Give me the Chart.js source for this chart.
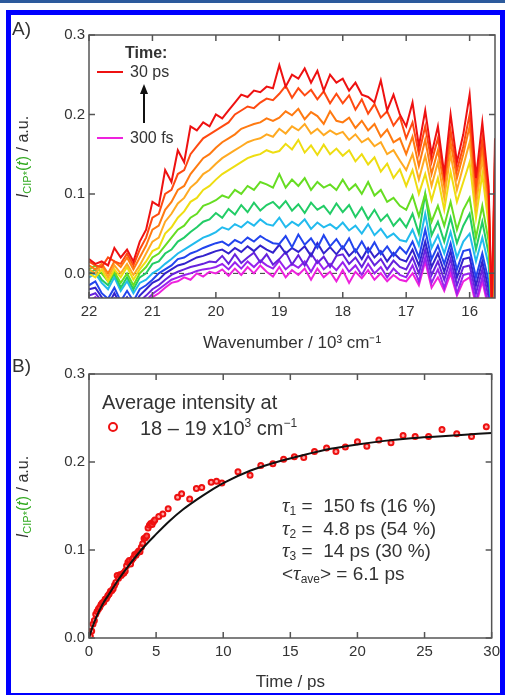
<!DOCTYPE html>
<html>
<head>
<meta charset="utf-8">
<script src="https://cdn.jsdelivr.net/npm/chart.js@4.4.1/dist/chart.umd.min.js"></script>
<style>
body { margin: 0; width: 505px; height: 695px; position: relative; overflow: hidden; background: #fff;
       font-family: "Liberation Sans", Arial, Helvetica, sans-serif; color: #333; }
#topbar { position: absolute; left: 0; top: 0; width: 505px; height: 3px; background: #2c5a9c; }
#frame { position: absolute; left: 6px; top: 10px; width: 499px; height: 688px; border: 5px solid #0000ff; box-sizing: border-box; }
canvas { position: absolute; left: 0; }
.t { position: absolute; white-space: nowrap; line-height: 1; }
.ytitle { position: absolute; white-space: nowrap; line-height: 1; font-size: 16px; transform: translate(-50%, -50%) rotate(-90deg); }
.ytitle .g { color: #33aa22; }
.ytitle sub { font-size: 11px; vertical-align: -3px; }
.tau i { font-family: "Liberation Serif", "DejaVu Serif", serif; font-size: 21px; }
.tau sub { font-size: 12px; vertical-align: -3px; }
.sw { position: absolute; height: 2px; width: 26px; }
</style>
</head>
<body>
<div id="topbar"></div>
<div id="frame"></div>
<canvas id="chartA" width="505" height="360" style="top:0"></canvas>
<canvas id="chartB" width="505" height="340" style="top:355px"></canvas>

<div class="t" style="left:12px;top:19px;font-size:19px">A)</div>
<div class="t" style="left:12px;top:356px;font-size:19px">B)</div>
<div class="ytitle" style="left:24px;top:157px"><i>I</i><sub class="g">CIP*</sub><span class="g">(<i>t</i>)</span> / a.u.</div>
<div class="ytitle" style="left:24px;top:497px"><i>I</i><sub class="g">CIP*</sub><span class="g">(<i>t</i>)</span> / a.u.</div>

<div class="t" style="left:125px;top:45px;font-size:16px;font-weight:bold">Time:</div>
<div class="sw" style="left:97px;top:71px;background:#ee1111"></div>
<div class="t" style="left:130px;top:64px;font-size:16px">30 ps</div>
<div style="position:absolute;left:143px;top:92px;width:2px;height:31px;background:#111"></div>
<div style="position:absolute;left:140px;top:84px;width:0;height:0;border-left:4px solid transparent;border-right:4px solid transparent;border-bottom:10px solid #111"></div>
<div class="sw" style="left:97px;top:137px;background:#ee22dd"></div>
<div class="t" style="left:130px;top:130px;font-size:16px">300 fs</div>

<div class="t" style="left:102px;top:392px;font-size:20px">Average intensity at</div>
<div style="position:absolute;left:108px;top:422px;width:6px;height:6px;border:2px solid #ee1111;border-radius:50%"></div>
<div class="t" style="left:140px;top:417px;font-size:20px">18 – 19 x10<sup style="font-size:12px">3</sup> cm<sup style="font-size:12px">−1</sup></div>

<div class="t tau" style="left:282px;top:495px;font-size:19px"><i>τ</i><sub>1</sub> =&nbsp; 150 fs (16 %)</div>
<div class="t tau" style="left:282px;top:518px;font-size:19px"><i>τ</i><sub>2</sub> =&nbsp; 4.8 ps (54 %)</div>
<div class="t tau" style="left:282px;top:540px;font-size:19px"><i>τ</i><sub>3</sub> =&nbsp; 14 ps (30 %)</div>
<div class="t tau" style="left:282px;top:563px;font-size:19px">&lt;<i>τ</i><sub>ave</sub>&gt; = 6.1 ps</div>

<script>
// wavenumber axis (10^3 cm-1) for panel A
var wn = [22.0, 21.9, 21.8, 21.7, 21.6, 21.5, 21.4, 21.3, 21.2, 21.1,
          21.0, 20.9, 20.8, 20.7, 20.6, 20.5, 20.4, 20.3, 20.2, 20.1,
          20.0, 19.9, 19.8, 19.7, 19.6, 19.5, 19.4, 19.3, 19.2, 19.1,
          19.0, 18.9, 18.8, 18.7, 18.6, 18.5, 18.4, 18.3, 18.2, 18.1,
          18.0, 17.9, 17.8, 17.7, 17.6, 17.5, 17.4, 17.3, 17.2, 17.1,
          17.0, 16.9, 16.8, 16.7, 16.6, 16.5, 16.4, 16.3, 16.2, 16.1,
          16.0, 15.9, 15.8, 15.7, 15.65, 15.6];

// spectra, latest (30 ps, red) to earliest (300 fs, magenta)
var s30ps = [.018,.012,.015,.010,.032,.020,.030,.015,.040,.055,
             .090,.085,.130,.115,.155,.140,.185,.180,.190,.185,
             .200,.195,.205,.215,.225,.222,.230,.228,.235,.233,
             .262,.235,.250,.245,.258,.240,.255,.230,.250,.240,
             .245,.230,.240,.225,.222,.215,.243,.205,.225,.200,
             .185,.215,.160,.205,.150,.185,.125,.200,.140,.175,
             .225,.120,.190,.110,-.050,.170];
var s2 = [.015,.010,.008,.020,.015,.012,.025,.010,.030,.045,
          .070,.075,.100,.105,.125,.130,.150,.160,.170,.175,
          .180,.185,.190,.200,.205,.210,.208,.215,.220,.218,
          .226,.236,.221,.233,.224,.231,.219,.229,.214,.226,
          .214,.224,.206,.219,.201,.213,.196,.204,.186,.197,
          .170,.190,.150,.185,.140,.170,.120,.180,.130,.160,
          .200,.110,.170,.100,-.050,.150];
var s3 = [.010,.005,.012,.000,.015,.008,.020,.005,.020,.035,
          .055,.060,.080,.090,.105,.110,.125,.135,.145,.150,
          .158,.165,.170,.175,.182,.185,.188,.190,.195,.192,
          .196,.204,.199,.207,.194,.203,.198,.188,.204,.192,
          .190,.196,.183,.192,.180,.188,.172,.181,.165,.170,
          .150,.172,.135,.168,.125,.155,.110,.165,.120,.150,
          .185,.100,.160,.090,-.050,.140];
var s4 = [.005,.000,.010,-.005,.010,.000,.012,-.002,.010,.025,
          .040,.045,.065,.075,.088,.095,.108,.115,.125,.130,
          .138,.145,.150,.155,.160,.165,.168,.170,.175,.172,
          .182,.176,.185,.180,.188,.176,.182,.174,.180,.175,
          .178,.168,.175,.165,.170,.160,.165,.150,.155,.142,
          .130,.150,.118,.148,.110,.140,.095,.150,.105,.135,
          .165,.085,.145,.075,-.050,.120];
var s5 = [.000,-.005,.005,-.010,.005,-.005,.008,-.008,.005,.015,
          .028,.032,.050,.058,.070,.078,.090,.095,.105,.110,
          .118,.125,.130,.135,.140,.145,.148,.150,.155,.152,
          .154,.163,.156,.168,.152,.161,.149,.162,.150,.157,
          .148,.155,.141,.150,.137,.146,.128,.138,.120,.131,
          .110,.130,.100,.125,.092,.120,.080,.128,.090,.115,
          .140,.070,.125,.060,-.050,.100];
var s6 = [.005,.010,.000,-.010,.002,-.012,.000,-.015,.000,.008,
          .020,.025,.035,.045,.055,.060,.070,.075,.085,.088,
          .092,.098,.095,.105,.100,.110,.105,.115,.112,.108,
          .125,.108,.118,.110,.120,.105,.115,.108,.112,.105,
          .118,.105,.112,.100,.115,.098,.105,.090,.095,.085,
          .080,.098,.072,.100,.065,.085,.060,.090,.055,.080,
          .095,.045,.085,.040,-.050,.070];
var s7 = [.000,.005,-.008,-.015,.000,-.018,-.005,-.020,-.005,.000,
          .012,.015,.025,.030,.040,.045,.052,.058,.065,.068,
          .076,.070,.081,.074,.086,.077,.089,.079,.086,.090,
          .082,.091,.079,.087,.076,.089,.080,.085,.075,.088,
          .077,.086,.071,.083,.068,.080,.066,.074,.060,.069,
          .058,.075,.050,.100,.048,.065,.040,.070,.038,.060,
          .075,.030,.065,.025,-.050,.055];
var s8 = [-.005,.000,-.012,-.020,-.005,-.022,-.010,-.025,-.012,-.008,
          .000,.005,.012,.018,.025,.030,.035,.040,.045,.048,
          .052,.058,.055,.062,.058,.065,.060,.068,.062,.060,
          .070,.058,.065,.060,.068,.056,.064,.058,.062,.056,
          .064,.054,.060,.050,.062,.048,.056,.045,.050,.042,
          .040,.055,.035,.075,.032,.048,.025,.052,.020,.040,
          .050,.015,.045,.010,-.050,.035];
var s9 = [-.015,-.010,-.025,-.032,-.018,-.035,-.022,-.035,-.020,-.015,
          -.008,.000,.005,.010,.018,.020,.025,.028,.032,.035,
          .038,.040,.035,.042,.038,.045,.040,.047,.042,.038,
          .037,.047,.033,.049,.036,.044,.032,.048,.034,.043,
          .031,.044,.027,.040,.026,.039,.024,.034,.022,.033,
          .025,.040,.020,.055,.018,.035,.012,.038,.005,.028,
          .030,-.005,.025,-.010,-.050,.015];
var s10 = [-.020,-.018,-.030,-.040,-.025,-.040,-.030,-.040,-.028,-.020,
           -.012,-.008,.000,.005,.010,.012,.016,.020,.022,.025,
           .028,.030,.025,.032,.027,.034,.028,.035,.030,.026,
           .036,.025,.032,.027,.034,.022,.038,.025,.033,.024,
           .034,.022,.030,.018,.032,.020,.028,.015,.026,.018,
           .015,.030,.010,.040,.008,.025,.002,.028,-.005,.018,
           .020,-.015,.015,-.020,-.050,.005];
var s11 = [-.028,-.025,-.035,-.045,-.032,-.045,-.038,-.045,-.035,-.028,
           -.020,-.015,-.008,-.002,.002,.005,.008,.010,.012,.015,
           .014,.022,.012,.024,.013,.020,.026,.014,.024,.011,
           .018,.027,.011,.023,.010,.025,.013,.021,.008,.022,
           .024,.012,.020,.008,.022,.010,.018,.005,.016,.008,
           .005,.020,.000,.030,-.002,.015,-.008,.018,-.015,.008,
           .010,-.025,.005,-.030,-.050,-.005];
var s12 = [-.035,-.030,-.042,-.048,-.038,-.050,-.042,-.050,-.040,-.034,
           -.026,-.020,-.014,-.008,-.005,-.002,.000,.003,.005,.006,
           .008,.012,.005,.014,.006,.015,.008,.016,.010,.006,
           .016,.005,.012,.007,.015,.002,.016,.005,.012,.004,
           .014,.002,.010,-.002,.012,.000,.008,-.005,.006,-.002,
           -.005,.010,-.010,.020,-.012,.005,-.018,.008,-.025,-.002,
           .000,-.035,-.005,-.040,-.050,-.015];
var s300fs = [-.040,-.038,-.045,-.050,-.042,-.050,-.045,-.050,-.042,-.035,
              -.030,-.025,-.018,-.012,-.010,-.005,-.008,.000,-.004,.002,
              .000,.005,-.003,.006,-.002,.008,.000,.010,.002,-.004,
              .008,-.005,.004,-.002,.006,-.008,.006,-.005,.002,-.010,
              .004,-.012,.002,-.006,.004,-.008,.000,-.010,-.002,-.008,
              -.010,.000,-.015,.015,-.018,-.005,-.022,.000,-.028,-.010,
              -.005,-.040,-.010,-.045,-.050,-.020];
var spectra = [s30ps, s2, s3, s4, s5, s6, s7, s8, s9, s10, s11, s12, s300fs];
var spectraColors = ['#ee1111', '#ff4a11', '#ff7a11', '#ffaa22', '#eedd11', '#66dd22', '#22cc66',
                     '#22bbee', '#2244ee', '#3322cc', '#6622dd', '#9922ee', '#ee22dd'];
var zeroX = [22.0, 15.6];
var zeroY = [0, 0];

// panel B: average intensity 18-19 x10^3 cm-1 vs time (ps)
var bTime = [0.1,0.2,0.3,0.4,0.5,0.6,0.7,0.8,0.9,1.0,1.1,1.2,1.3,1.4,1.5,1.6,1.7,1.8,1.9,2.0,
             2.1,2.2,2.3,2.4,2.5,2.6,2.7,2.8,2.9,3.0,3.1,3.2,3.3,3.4,3.5,3.6,3.7,3.8,3.9,4.0,
             4.1,4.2,4.3,4.4,4.5,4.6,4.7,4.8,4.9,5.2,5.5,5.9,6.6,6.9,7.5,8.0,8.4,9.1,9.5,9.9,
             11.1,12.0,12.8,13.7,14.5,15.3,16.0,16.8,17.7,18.4,19.1,20.0,20.7,21.6,22.5,23.4,
             24.3,25.3,26.3,27.4,28.5,29.6];
var bIntensity = [0.002,0.008,0.016,0.020,0.027,0.030,0.033,0.035,0.038,0.040,0.041,0.044,0.045,0.048,0.050,0.053,0.054,0.056,0.060,0.063,
                  0.071,0.068,0.072,0.071,0.073,0.074,0.076,0.082,0.086,0.088,0.084,0.089,0.091,0.095,0.094,0.097,0.099,0.098,0.103,0.107,
                  0.113,0.114,0.116,0.125,0.128,0.130,0.129,0.132,0.134,0.138,0.141,0.147,0.160,0.164,0.158,0.170,0.171,0.177,0.178,0.176,
                  0.189,0.185,0.196,0.198,0.203,0.206,0.205,0.212,0.216,0.212,0.217,0.223,0.218,0.225,0.222,0.230,
                  0.229,0.229,0.237,0.232,0.229,0.240];
var fitTime = [0, 0.25, 0.5, 1, 1.5, 2, 3, 4, 5, 6, 7, 8, 9, 10, 12, 14, 16, 18, 20, 22, 24, 26, 28, 30];
var fitVal = [0, 0.012, 0.022, 0.038, 0.050, 0.062, 0.083, 0.102, 0.118, 0.133, 0.146, 0.157, 0.167, 0.176,
              0.190, 0.200, 0.208, 0.215, 0.220, 0.224, 0.227, 0.229, 0.231, 0.233];

Chart.defaults.font.family = '"Liberation Sans", Arial, Helvetica, sans-serif';
Chart.defaults.color = '#333';

function pairs(xs, ys) {
  return xs.map(function (x, i) { return { x: x, y: ys[i] }; });
}

// frame + inward tick marks on all four sides
var boxTicks = {
  id: 'boxTicks',
  afterDraw: function (chart) {
    var ctx = chart.ctx, a = chart.chartArea, x = chart.scales.x, y = chart.scales.y, L = 6;
    ctx.save();
    ctx.strokeStyle = '#555';
    ctx.lineWidth = 1.5;
    ctx.strokeRect(a.left, a.top, a.right - a.left, a.bottom - a.top);
    ctx.beginPath();
    x.ticks.forEach(function (t) {
      var px = x.getPixelForValue(t.value);
      ctx.moveTo(px, a.bottom); ctx.lineTo(px, a.bottom - L);
      ctx.moveTo(px, a.top); ctx.lineTo(px, a.top + L);
    });
    y.ticks.forEach(function (t) {
      var py = y.getPixelForValue(t.value);
      ctx.moveTo(a.left, py); ctx.lineTo(a.left + L, py);
      ctx.moveTo(a.right, py); ctx.lineTo(a.right - L, py);
    });
    ctx.stroke();
    ctx.restore();
  }
};

var dsA = spectra.map(function (s, i) {
  return { data: pairs(wn, s), borderColor: spectraColors[i], borderWidth: 2, pointRadius: 0, fill: false, tension: 0 };
});
dsA.push({ data: pairs(zeroX, zeroY), borderColor: '#333', borderWidth: 1, borderDash: [5, 4], pointRadius: 0, fill: false });

var chartA = new Chart(document.getElementById('chartA'), {
  type: 'line',
  data: { datasets: dsA },
  options: {
    animation: false,
    responsive: false,
    events: [],
    layout: { padding: { left: 0, top: 35, right: 10, bottom: 0 } },
    plugins: { legend: { display: false }, tooltip: { enabled: false } },
    scales: {
      x: {
        type: 'linear', reverse: true, min: 15.6, max: 22,
        grid: { display: false, drawTicks: false }, border: { display: false },
        ticks: { stepSize: 1, includeBounds: false, maxRotation: 0, padding: 5, font: { size: 15 },
                 callback: function (v) { return Math.round(v); } },
        title: { display: true, text: 'Wavenumber / 10³ cm⁻¹', font: { size: 17 }, padding: { top: 0, bottom: 6 } },
        afterFit: function (s) { s.height = 62; }
      },
      y: {
        type: 'linear', min: -0.031, max: 0.3,
        grid: { display: false, drawTicks: false }, border: { display: false },
        ticks: { stepSize: 0.1, includeBounds: false, padding: 4, font: { size: 15 },
                 callback: function (v) { return v.toFixed(1); } },
        afterFit: function (s) { s.width = 89; }
      }
    }
  },
  plugins: [boxTicks]
});

var chartB = new Chart(document.getElementById('chartB'), {
  type: 'line',
  data: {
    datasets: [
      { data: pairs(fitTime, fitVal), borderColor: '#111', borderWidth: 2, pointRadius: 0, fill: false,
        cubicInterpolationMode: 'monotone' },
      { data: pairs(bTime, bIntensity), showLine: false, pointRadius: 2.5, pointBorderWidth: 2,
        pointBorderColor: '#ee1111', pointBackgroundColor: 'rgba(255,110,110,0.6)' }
    ]
  },
  options: {
    animation: false,
    responsive: false,
    events: [],
    layout: { padding: { left: 0, top: 19, right: 12, bottom: 0 } },
    plugins: { legend: { display: false }, tooltip: { enabled: false } },
    scales: {
      x: {
        type: 'linear', min: 0, max: 30,
        grid: { display: false, drawTicks: false }, border: { display: false },
        ticks: { stepSize: 5, maxRotation: 0, padding: 5, font: { size: 15 } },
        title: { display: true, text: 'Time / ps', font: { size: 17 }, padding: { top: 0, bottom: 2 } },
        afterFit: function (s) { s.height = 57; }
      },
      y: {
        type: 'linear', min: 0, max: 0.3,
        grid: { display: false, drawTicks: false }, border: { display: false },
        ticks: { stepSize: 0.1, padding: 4, font: { size: 15 },
                 callback: function (v) { return v.toFixed(1); } },
        afterFit: function (s) { s.width = 89; }
      }
    }
  },
  plugins: [boxTicks]
});
</script>
</body>
</html>
